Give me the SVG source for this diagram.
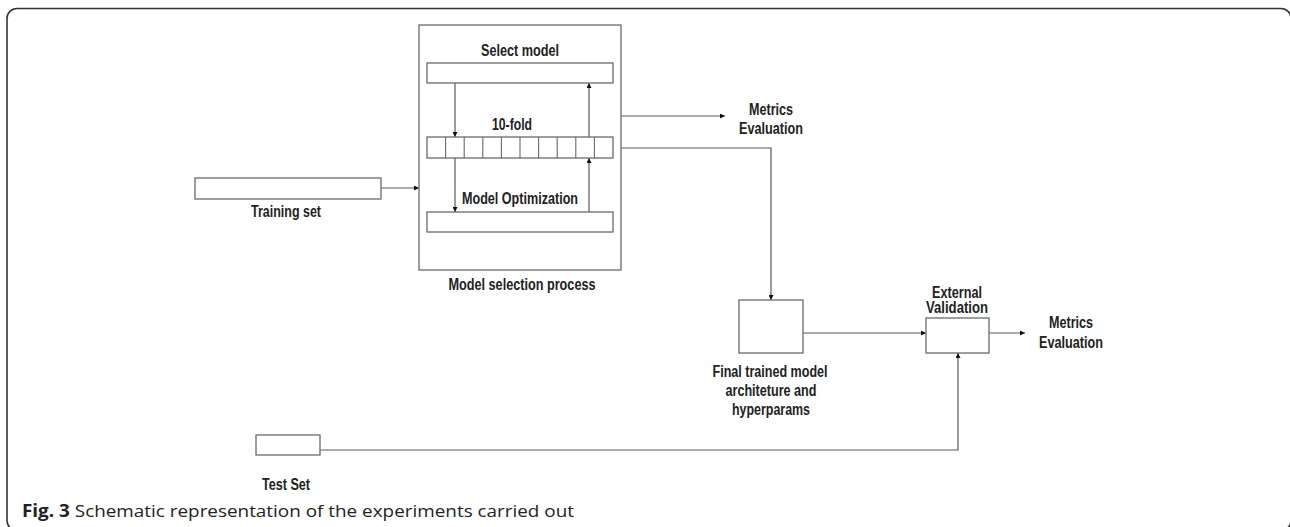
<svg xmlns="http://www.w3.org/2000/svg" width="1290" height="527" viewBox="0 0 1290 527">
<style>
.frame{fill:none;stroke:#333;stroke-width:1.6}
.box{fill:#fff;stroke:#6a6a6a;stroke-width:1.3}
.cell{fill:none;stroke:#6a6a6a;stroke-width:1.1}
.con{fill:none;stroke:#5a5a5a;stroke-width:1.2}
.lbl{font-family:"Liberation Sans",Arial,sans-serif;font-weight:bold;font-size:16px;fill:#222;text-anchor:middle}
.cap{font-family:"Open Sans","Liberation Sans",sans-serif;font-size:17px;fill:#222}
</style>
<defs>
<marker id="ah" viewBox="0 0 10 10" refX="10" refY="5" markerWidth="5" markerHeight="5" orient="auto" markerUnits="userSpaceOnUse">
<path d="M0,0 L10,5 L0,10 z" fill="#111"/>
</marker>
</defs>
<rect class="frame" x="7" y="8.5" width="1284" height="522" rx="10" ry="10"/>

<g id="connectors">
<path class="con" d="M381,188 H419" marker-end="url(#ah)"/>
<path class="con" d="M455,83 V137" marker-end="url(#ah)"/>
<path class="con" d="M455,158 V212" marker-end="url(#ah)"/>
<path class="con" d="M589,212 V158" marker-end="url(#ah)"/>
<path class="con" d="M589,137 V83" marker-end="url(#ah)"/>
<path class="con" d="M621,116 H725" marker-end="url(#ah)"/>
<path class="con" d="M621,148 H771 V300" marker-end="url(#ah)"/>
<path class="con" d="M803,333 H926" marker-end="url(#ah)"/>
<path class="con" d="M989,333 H1025" marker-end="url(#ah)"/>
<path class="con" d="M320,450 H958 V353" marker-end="url(#ah)"/>
</g>

<g id="training-set">
<rect class="box" x="195" y="178" width="186" height="21"/>
<text class="lbl" x="286" y="217" textLength="70" lengthAdjust="spacingAndGlyphs">Training set</text>
</g>

<g id="model-selection">
<rect class="box" x="419" y="25" width="202" height="245" style="fill:none"/>
<text class="lbl" x="522" y="290" textLength="147" lengthAdjust="spacingAndGlyphs">Model selection process</text>
</g>

<g id="select-model">
<rect class="box" x="427" y="63" width="186" height="20"/>
<text class="lbl" x="520" y="56" textLength="78" lengthAdjust="spacingAndGlyphs">Select model</text>
</g>

<g id="ten-fold">
<rect class="box" x="427" y="137" width="186" height="21"/>
<path class="cell" d="M445.6,137 V158 M464.2,137 V158 M482.8,137 V158 M501.4,137 V158 M520,137 V158 M538.6,137 V158 M557.2,137 V158 M575.8,137 V158 M594.4,137 V158"/>
<text class="lbl" x="512" y="130" textLength="40" lengthAdjust="spacingAndGlyphs">10-fold</text>
</g>

<g id="model-optimization">
<rect class="box" x="427" y="212" width="186" height="20"/>
<text class="lbl" x="520" y="204" textLength="116" lengthAdjust="spacingAndGlyphs">Model Optimization</text>
</g>

<g id="metrics-1">
<text class="lbl" x="771" y="115" textLength="44" lengthAdjust="spacingAndGlyphs">Metrics</text>
<text class="lbl" x="771" y="134" textLength="64" lengthAdjust="spacingAndGlyphs">Evaluation</text>
</g>

<g id="final-model">
<rect class="box" x="739" y="300" width="64" height="53"/>
<text class="lbl" x="770" y="377" textLength="115" lengthAdjust="spacingAndGlyphs">Final trained model</text>
<text class="lbl" x="771" y="396" textLength="91" lengthAdjust="spacingAndGlyphs">architeture and</text>
<text class="lbl" x="771" y="415" textLength="78" lengthAdjust="spacingAndGlyphs">hyperparams</text>
</g>

<g id="external-validation">
<rect class="box" x="926" y="318" width="63" height="35"/>
<text class="lbl" x="957" y="298" textLength="50" lengthAdjust="spacingAndGlyphs">External</text>
<text class="lbl" x="957" y="313" textLength="62" lengthAdjust="spacingAndGlyphs">Validation</text>
</g>

<g id="metrics-2">
<text class="lbl" x="1071" y="328" textLength="44" lengthAdjust="spacingAndGlyphs">Metrics</text>
<text class="lbl" x="1071" y="348" textLength="64" lengthAdjust="spacingAndGlyphs">Evaluation</text>
</g>

<g id="test-set">
<rect class="box" x="256" y="435" width="64" height="20"/>
<text class="lbl" x="286" y="490" textLength="48" lengthAdjust="spacingAndGlyphs">Test Set</text>
</g>

<text class="cap" x="22" y="517" textLength="552" lengthAdjust="spacingAndGlyphs"><tspan font-weight="bold">Fig. 3</tspan> Schematic representation of the experiments carried out</text>
</svg>
